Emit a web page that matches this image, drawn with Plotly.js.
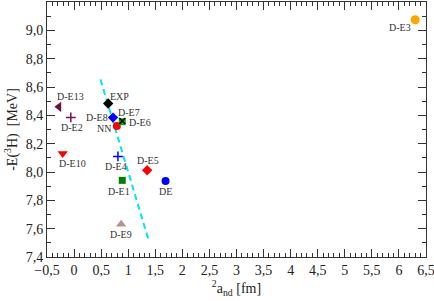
<!DOCTYPE html>
<html><head><meta charset="utf-8">
<script src="https://cdn.plot.ly/plotly-3.0.1.min.js"></script>
<style>html,body{margin:0;padding:0;background:#fff}#chart{width:434px;height:301px}</style>
</head><body><div id="chart"></div>
<script>
// Data
const names = ["D-E13","D-E2","EXP","D-E8","NN","D-E6","D-E7","D-E10","D-E4","D-E5","D-E1","DE","D-E9","D-E3"];
const aValues = [-0.28, -0.06, 0.63, 0.72, 0.79, 0.89, 0.89, -0.21, 0.81, 1.35, 0.89, 1.69, 0.87, 6.30];
const eValues = [8.46, 8.385, 8.483, 8.384, 8.325, 8.355, 8.36, 8.13, 8.11, 8.012, 7.941, 7.936, 7.631, 9.075];
const lineX = [0.487, 1.381];
const lineY = [8.654, 7.513];

// Styles (marker symbol, colour, label offset in px)
const styles = {
  "D-E13": {symbol:"triangle-left", color:"#6b1040", size:9, dx:12, dy:-10},
  "D-E2":  {symbol:"cross-thin", color:"#7a1050", size:7, dx:1, dy:10},
  "EXP":   {symbol:"diamond", color:"#000000", size:8, dx:11, dy:-7},
  "D-E8":  {symbol:"diamond", color:"#0000ff", size:8, dx:-16, dy:0},
  "NN":    {symbol:"circle", color:"#ff0000", size:8, dx:-13, dy:3},
  "D-E6":  {symbol:"square", color:"#00b000", size:7, dx:18, dy:1},
  "D-E7":  {symbol:"x-thin", color:"#000000", size:6, dx:7, dy:-9},
  "D-E10": {symbol:"triangle-down", color:"#ff0000", size:9, dx:10, dy:10},
  "D-E4":  {symbol:"cross-thin", color:"#0000ff", size:7, dx:-2, dy:10},
  "D-E5":  {symbol:"diamond", color:"#ff0000", size:8, dx:1, dy:-10},
  "D-E1":  {symbol:"square", color:"#008000", size:7, dx:-3, dy:11},
  "DE":    {symbol:"circle", color:"#0000ff", size:8, dx:0, dy:10},
  "D-E9":  {symbol:"triangle-up", color:"#bc8f8f", size:9, dx:0, dy:10},
  "D-E3":  {symbol:"circle", color:"#ffa500", size:9, dx:-15, dy:8}
};

const traces = [{
  x: lineX, y: lineY, mode: "lines", type: "scatter",
  line: {color: "#00e5ee", width: 2, dash: "6px,4px"}, hoverinfo: "skip"
}];
const annotations = [];
names.forEach((n, i) => {
  const s = styles[n];
  traces.push({
    x: [aValues[i]], y: [eValues[i]], mode: "markers", type: "scatter", name: n,
    marker: {symbol: s.symbol, color: s.color, size: s.size,
             line: {color: s.color, width: (s.symbol.indexOf("thin") >= 0) ? 1.5 : 0}}
  });
  annotations.push({
    x: aValues[i], y: eValues[i], xref: "x", yref: "y", text: n, showarrow: false,
    xshift: s.dx, yshift: -s.dy,
    font: {family: "Liberation Serif", size: 10, color: "#333"}
  });
});

const tickFont = {family: "Liberation Serif", size: 14, color: "#222"};
const layout = {
  width: 434, height: 301,
  margin: {l: 47, r: 8, t: 2, b: 44},
  paper_bgcolor: "#fff", plot_bgcolor: "#fff",
  showlegend: false,
  separators: ", ",
  font: {family: "Liberation Serif", color: "#222"},
  xaxis: {
    range: [-0.5, 6.5], dtick: 0.5, tick0: 0, ticks: "inside", ticklen: 8,
    tickcolor: "#333", linecolor: "#333", linewidth: 1, showline: true, mirror: "allticks",
    showgrid: false, zeroline: false, tickfont: tickFont, ticklabeloverflow: "allow",
    minor: {dtick: 0.1, ticks: "inside", ticklen: 4, tickcolor: "#333", showgrid: false},
    title: {text: "<sup>2</sup>a<sub>nd</sub> [fm]", font: {family: "Liberation Serif", size: 14, color: "#222"}, standoff: 6}
  },
  yaxis: {
    range: [7.4, 9.2], dtick: 0.2, tick0: 7.4, ticks: "inside", ticklen: 8, tickformat: ".1f",
    tickcolor: "#333", linecolor: "#333", linewidth: 1, showline: true, mirror: "allticks",
    showgrid: false, zeroline: false, tickfont: tickFont,
    minor: {dtick: 0.1, ticks: "inside", ticklen: 4, tickcolor: "#333", showgrid: false},
    title: {text: "-E(<sup>3</sup>H)  [MeV]", font: {family: "Liberation Serif", size: 14, color: "#222"}, standoff: 4}
  },
  annotations: annotations
};
Plotly.newPlot("chart", traces, layout, {displayModeBar: false, staticPlot: true});
</script></body></html>
